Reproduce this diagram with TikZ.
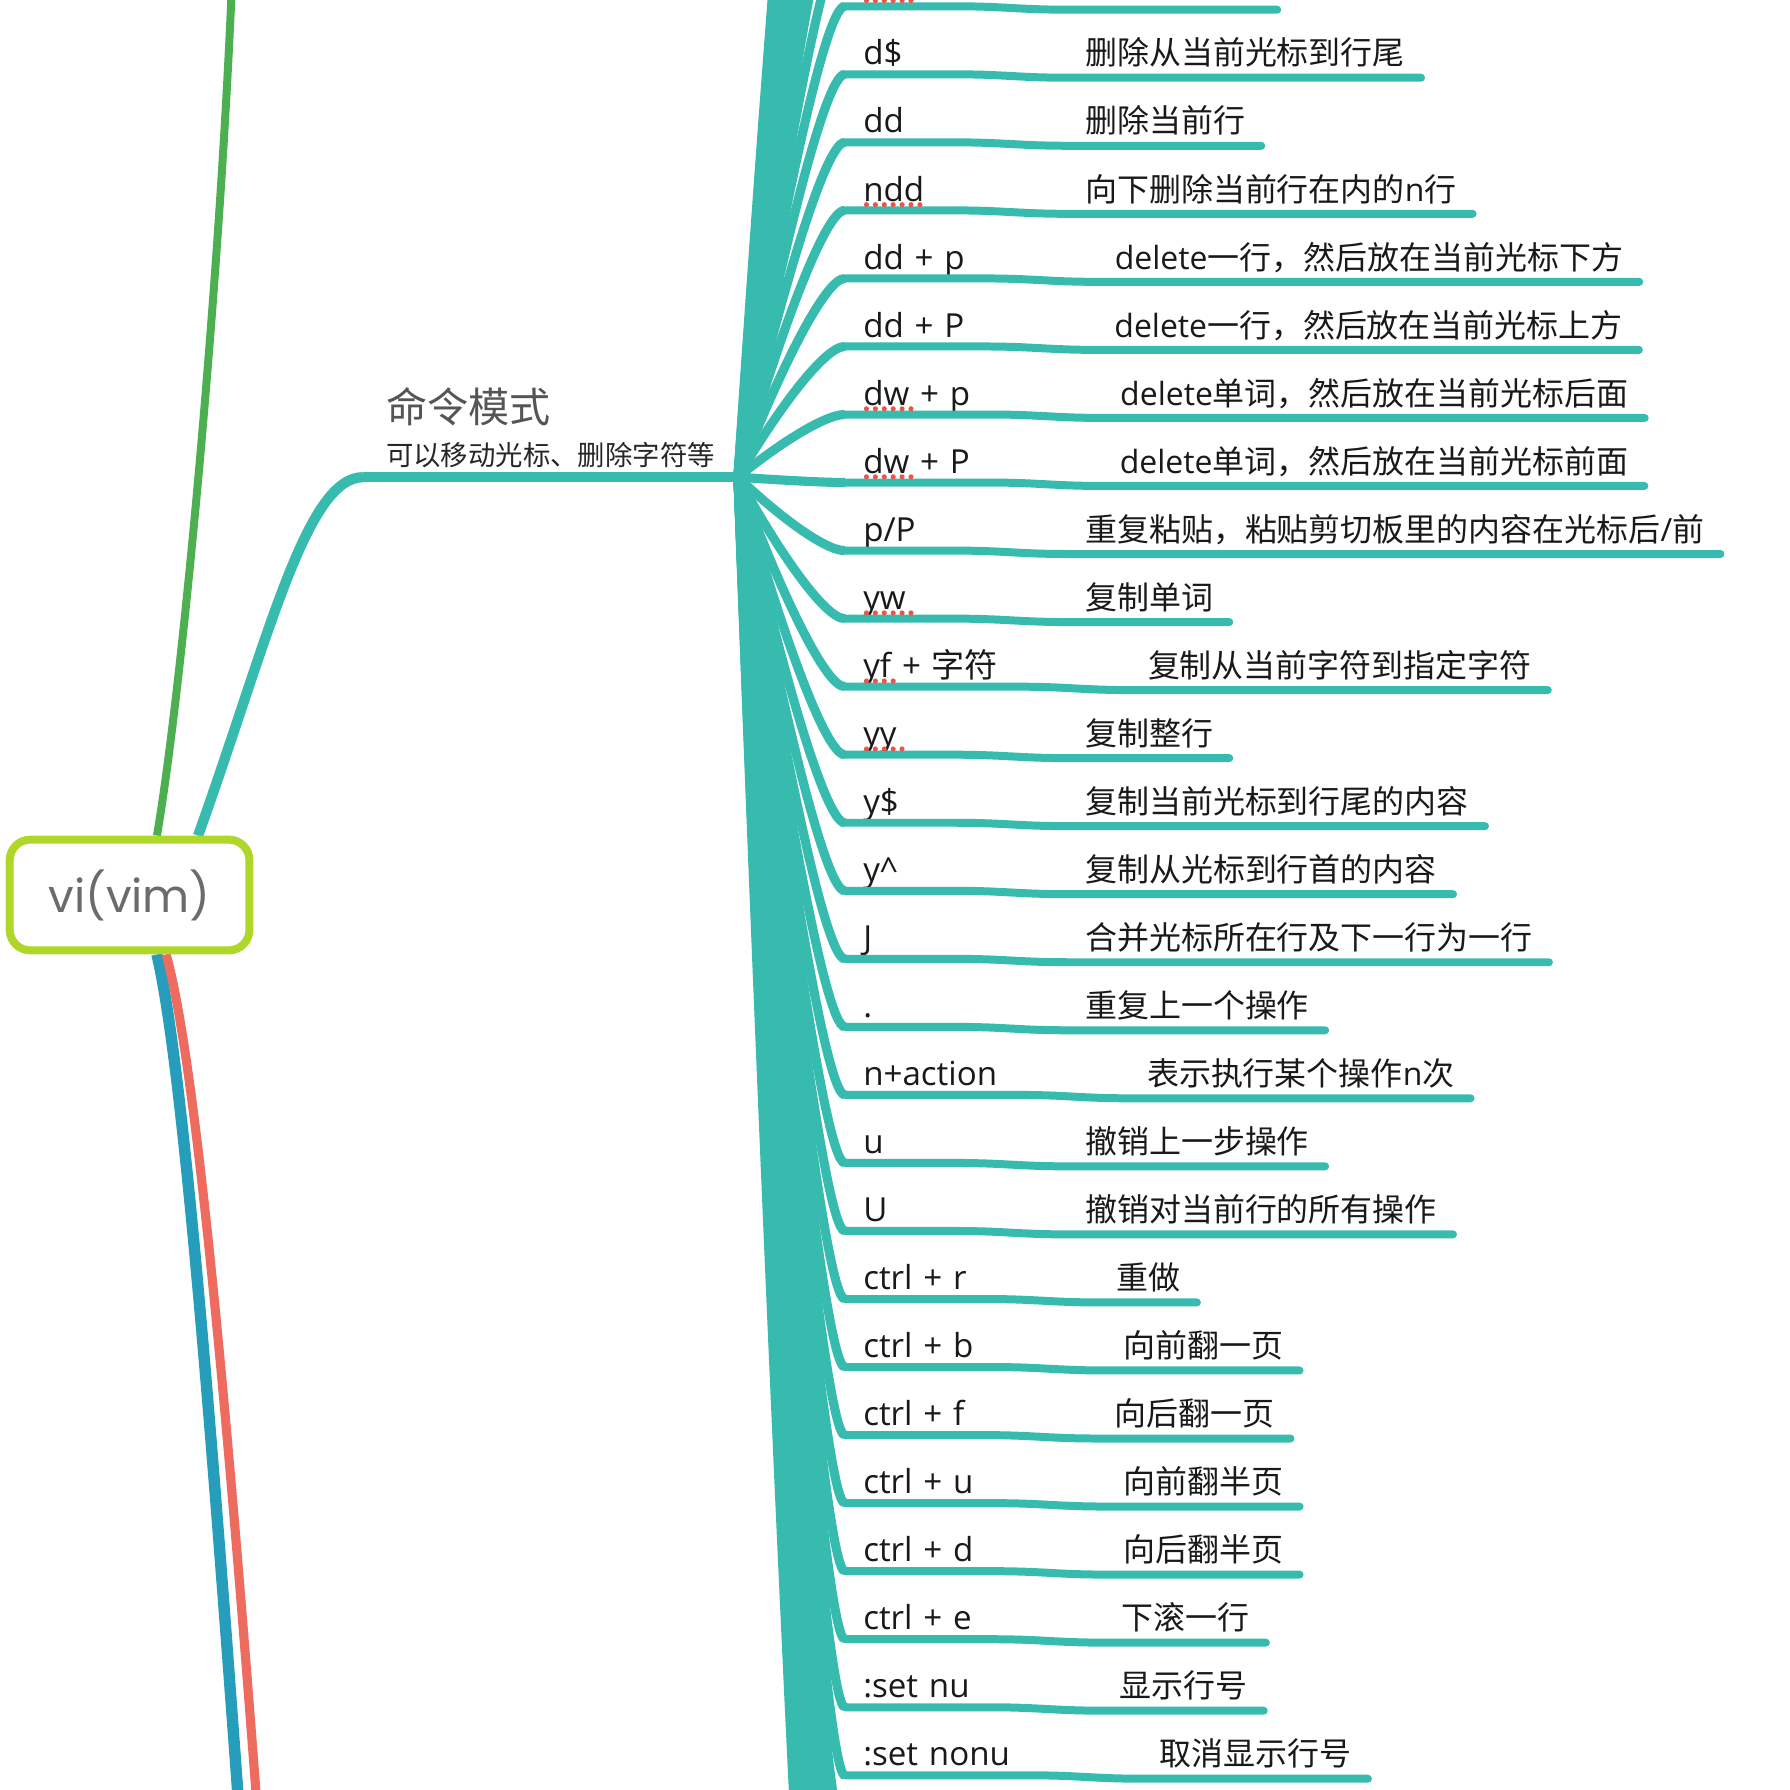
\documentclass[tikz,border=0pt]{standalone}
\usepackage{fontspec}
\setmainfont{Open Sans}
\newfontfamily\zhfont{Noto Sans CJK SC}
\newfontfamily\rootfont{Poppins}
\newcommand{\zh}[1]{{\zhfont #1}}
\newcommand{\keyfont}{\fontsize{29}{32}\selectfont\spaceskip=9.5pt\relax}
\newlength\keylen
\newcommand{\keybox}[1]{\settowidth\keylen{#1}\ifdim\keylen<63pt\setlength\keylen{63pt}\fi\makebox[\keylen][l]{#1}}
\usepackage{tikz}
\usetikzlibrary{calc,backgrounds}
\definecolor{branchteal}{HTML}{37BBAF}
\definecolor{rootlime}{HTML}{AED72A}
\definecolor{rootgray}{HTML}{6B6B6B}
\definecolor{titlegray}{HTML}{555555}
\definecolor{mapgreen}{HTML}{4CB050}
\definecolor{mapblue}{HTML}{269DBA}
\definecolor{mapred}{HTML}{EE6B60}
\definecolor{spellred}{HTML}{E8564B}
\tikzset{
    rootnode/.style = {
        draw=rootlime,
        line width=7pt,
        rounded corners=18pt,
        fill=white,
        minimum width=210pt,
        minimum height=97pt,
        font=\rootfont\fontsize{40}{40}\selectfont,
        text=rootgray
    },
    cmdnode/.style = {
        anchor=south west,
        align=left,
        inner xsep=20pt,
        inner ysep=8pt,
        minimum width=322pt,
        font=\zhfont\fontsize{24}{30}\selectfont,
        text=black!85
    },
    keynode/.style = {
        anchor=south west,
        inner xsep=16pt,
        inner ysep=8pt,
        text depth=0pt,
        font=\keyfont,
        text=black!90
    },
    descnode/.style = {
        keynode,
        inner xsep=14pt,
        inner ysep=11pt,
        font=\fontsize{28}{32}\selectfont
    },
    branch/.style = {draw=branchteal, line width=8pt},
    uline/.style = {draw=branchteal, line width=7pt, line cap=round, line join=round},
    spell/.style = {draw=spellred, line width=4.5pt, line cap=round, dash pattern=on 0pt off 7.8pt}
}
\begin{document}
\begin{tikzpicture}[x=1pt, y=-1pt]
    \useasboundingbox (0,0) rectangle (1568,1568);
    \clip (0,0) rectangle (1568,1568);

    \node [rootnode] (root) at (113.5,784) {vi(vim)};
    \node [cmdnode] (cmd) at (318,418) {{\fontsize{36}{36}\selectfont\color{titlegray}命令模式}\\[8pt]可以移动光标、删除字符等};

    \coordinate (gtop) at (203,-10);
    \coordinate (bbot) at (209,1580);
    \coordinate (rbot) at (225,1580);
    \begin{scope}[on background layer]
        \draw [line width=7pt, mapgreen] ([xshift=24pt]root.north) .. controls (160,600) and (192,250) .. (gtop);
        \draw [line width=9pt, branchteal] ([xshift=60pt]root.north) .. controls (235,560) and (268,418) .. (cmd.south west);
        \draw [line width=10pt, mapblue] ([xshift=24pt]root.south) .. controls (160,930) and (185,1250) .. (bbot);
        \draw [line width=8pt, mapred] ([xshift=32pt]root.south) .. controls (172,930) and (200,1250) .. (rbot);
    \end{scope}

    \draw [line width=9pt, branchteal] (cmd.south west) -- (cmd.south east);

    \foreach \j in {-10,...,-1,27,28,...,37} {
        \pgfmathsetmacro\y{5.5+59.6*\j}
        \pgfmathsetmacro\ym{(418+\y)/2}
        \coordinate (far\j) at (740,\y);
        \draw [branch] (cmd.south east) .. controls (680,\ym) and (722,\y) .. (far\j);
    }

    \node [keynode] (k0) at (740,5.5) {\keybox{}};
    \node [descnode, minimum width=182pt] (d0) at ($(k0.south east)+(101,3)$) {};
    \draw [branch] (cmd.south east) .. controls (680,211.7) and (722,5.5) .. (k0.south west);
    \draw [uline] (k0.south west) -- (k0.south east) .. controls +(45,0) and +(-45,0) .. (d0.south west) -- (d0.south east);
    \draw [spell] ([xshift=19pt,yshift=5pt]k0.south west) -- ++(42,0);

    \foreach \i/\k/\d/\s in {
        1/{d\$}/{\zh{删除从当前光标到行尾}}/0,
        2/{dd}/{\zh{删除当前行}}/0,
        3/{ndd}/{\zh{向下删除当前行在内的}n\zh{行}}/52,
        4/{dd + p}/{delete\zh{一行，然后放在当前光标下方}}/0,
        5/{dd + P}/{delete\zh{一行，然后放在当前光标上方}}/0,
        6/{dw + p}/{delete\zh{单词，然后放在当前光标后面}}/39,
        7/{dw + P}/{delete\zh{单词，然后放在当前光标前面}}/39,
        8/{p/P}/{\zh{重复粘贴，粘贴剪切板里的内容在光标后}/\zh{前}}/0,
        9/{yw}/{\zh{复制单词}}/39,
        10/{yf + \zh{字符}}/{\zh{复制从当前字符到指定字符}}/24,
        11/{yy}/{\zh{复制整行}}/32,
        12/{y\$}/{\zh{复制当前光标到行尾的内容}}/0,
        13/{y\textasciicircum}/{\zh{复制从光标到行首的内容}}/0,
        14/{J}/{\zh{合并光标所在行及下一行为一行}}/0,
        15/{.}/{\zh{重复上一个操作}}/0,
        16/{n+action}/{\zh{表示执行某个操作}n\zh{次}}/0,
        17/{u}/{\zh{撤销上一步操作}}/0,
        18/{U}/{\zh{撤销对当前行的所有操作}}/0,
        19/{ctrl + r}/{\zh{重做}}/0,
        20/{ctrl + b}/{\zh{向前翻一页}}/0,
        21/{ctrl + f}/{\zh{向后翻一页}}/0,
        22/{ctrl + u}/{\zh{向前翻半页}}/0,
        23/{ctrl + d}/{\zh{向后翻半页}}/0,
        24/{ctrl + e}/{\zh{下滚一行}}/0,
        25/{:set nu}/{\zh{显示行号}}/0,
        26/{:set nonu}/{\zh{取消显示行号}}/0} {
        \pgfmathsetmacro\y{5.5+59.6*\i}
        \pgfmathsetmacro\ym{(418+\y)/2}
        \node [keynode] (k\i) at (740,\y) {\keybox{\k}};
        \node [descnode] (d\i) at ($(k\i.south east)+(101,3)$) {\d};
        \draw [branch] (cmd.south east) .. controls (680,\ym) and (722,\y) .. (k\i.south west);
        \draw [uline] (k\i.south west) -- (k\i.south east) .. controls +(45,0) and +(-45,0) .. (d\i.south west) -- (d\i.south east);
        \ifnum\s>0 \draw [spell] ([xshift=19pt,yshift=5pt]k\i.south west) -- ++(\s,0); \fi
    }
\end{tikzpicture}
\end{document}
